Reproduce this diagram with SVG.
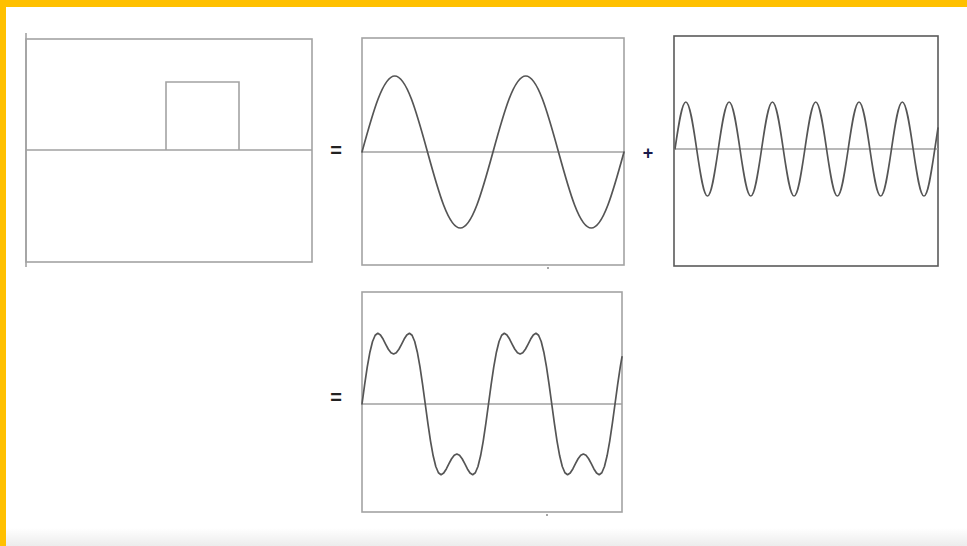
<svg xmlns="http://www.w3.org/2000/svg" width="967" height="546" viewBox="0 0 967 546">
<style>
.frame{fill:none;stroke:#a3a3a3;stroke-width:1.6}
.frame-dark{fill:none;stroke:#5a5a5a;stroke-width:1.6}
.axis{fill:none;stroke:#a0a0a0;stroke-width:1.5}
.wave{fill:none;stroke:#555;stroke-width:1.7;stroke-linejoin:round;stroke-linecap:round}
.op{font-family:"Liberation Sans",Arial,sans-serif;font-weight:bold;text-anchor:middle}
</style>
<defs>
<linearGradient id="fade" x1="0" y1="0" x2="0" y2="1">
<stop offset="0" stop-color="#ffffff"/>
<stop offset="1" stop-color="#ececec"/>
</linearGradient>
</defs>
<rect x="0" y="0" width="967" height="546" fill="#ffffff"/>
<rect x="0" y="528" width="967" height="18" fill="url(#fade)"/>
<rect x="0" y="0" width="967" height="7" fill="#ffc000"/>
<rect x="0" y="0" width="6" height="546" fill="#ffc000"/>

<g id="pulse">
<rect class="frame" x="26" y="39" width="286" height="223"/>
<line class="frame" x1="26" y1="33" x2="26" y2="267"/>
<line class="axis" x1="26" y1="150" x2="312" y2="150"/>
<path class="frame" d="M166,150 V82 H239 V150"/>
</g>

<text class="op" x="336" y="156.5" font-size="20" fill="#222">=</text>

<g id="fundamental">
<rect class="frame" x="362" y="38" width="262" height="227"/>
<line class="axis" x1="362" y1="152" x2="624" y2="152"/>
<path class="wave" d="M362,152 C372.95,112.1 383.02,76 394.75,76 S416.55,112.1 427.5,152 S448.52,228 460.25,228 S482.05,191.9 493,152 S514.02,76 525.75,76 S547.55,112.1 558.5,152 S579.52,228 591.25,228 S613.05,191.9 624,152"/>
<line x1="548" y1="267" x2="548" y2="269" stroke="#888" stroke-width="1.5"/>
</g>

<text class="op" x="648" y="158.5" font-size="18" fill="#1a1a4a">+</text>

<g id="harmonic">
<rect class="frame-dark" x="674" y="36" width="264" height="230"/>
<line class="axis" x1="674" y1="149" x2="938" y2="149"/>
<path class="wave" d="M675,149 c3.619,-24.68 6.949,-47 10.825,-47 s7.206,22.32 10.825,47 s6.949,47 10.825,47 s7.206,-22.32 10.825,-47 s6.949,-47 10.825,-47 s7.206,22.32 10.825,47 s6.949,47 10.825,47 s7.206,-22.32 10.825,-47 s6.949,-47 10.825,-47 s7.206,22.32 10.825,47 s6.949,47 10.825,47 s7.206,-22.32 10.825,-47 s6.949,-47 10.825,-47 s7.206,22.32 10.825,47 s6.949,47 10.825,47 s7.206,-22.32 10.825,-47 s6.949,-47 10.825,-47 s7.206,22.32 10.825,47 s6.949,47 10.825,47 s7.206,-22.32 10.825,-47 s6.949,-47 10.825,-47 s7.206,22.32 10.825,47 s6.949,47 10.825,47 s7.206,-22.32 10.825,-47 l3.2,-21"/>
</g>

<text class="op" x="336" y="404" font-size="20" fill="#222">=</text>

<g id="sum">
<rect class="frame" x="362" y="292" width="260" height="220"/>
<line class="axis" x1="362" y1="404" x2="622" y2="404"/>
<polyline class="wave" points="362,404 364.64,384.64 367.27,366.91 369.91,352.2 372.54,341.5 375.18,335.25 377.81,333.29 380.45,334.93 383.08,339.05 385.72,344.28 388.35,349.23 390.99,352.74 393.62,354 396.26,352.74 398.9,349.23 401.53,344.28 404.17,339.05 406.8,334.93 409.44,333.29 412.07,335.25 414.71,341.5 417.34,352.2 419.98,366.91 422.61,384.64 425.25,404 427.89,423.36 430.52,441.09 433.16,455.8 435.79,466.5 438.43,472.75 441.06,474.71 443.7,473.07 446.33,468.95 448.97,463.72 451.6,458.77 454.24,455.26 456.87,454 459.51,455.26 462.15,458.77 464.78,463.72 467.42,468.95 470.05,473.07 472.69,474.71 475.32,472.75 477.96,466.5 480.59,455.8 483.23,441.09 485.86,423.36 488.5,404 491.14,384.64 493.77,366.91 496.41,352.2 499.04,341.5 501.68,335.25 504.31,333.29 506.95,334.93 509.58,339.05 512.22,344.28 514.85,349.23 517.49,352.74 520.12,354 522.76,352.74 525.4,349.23 528.03,344.28 530.67,339.05 533.3,334.93 535.94,333.29 538.57,335.25 541.21,341.5 543.84,352.2 546.48,366.91 549.11,384.64 551.75,404 554.39,423.36 557.02,441.09 559.66,455.8 562.29,466.5 564.93,472.75 567.56,474.71 570.2,473.07 572.83,468.95 575.47,463.72 578.1,458.77 580.74,455.26 583.37,454 586.01,455.26 588.65,458.77 591.28,463.72 593.92,468.95 596.55,473.07 599.19,474.71 601.82,472.75 604.46,466.5 607.09,455.8 609.73,441.09 612.36,423.36 615,404 617.64,384.64 620.27,366.91 622,356.9"/>
<line x1="547" y1="514" x2="547" y2="516" stroke="#888" stroke-width="1.5"/>
</g>
</svg>
